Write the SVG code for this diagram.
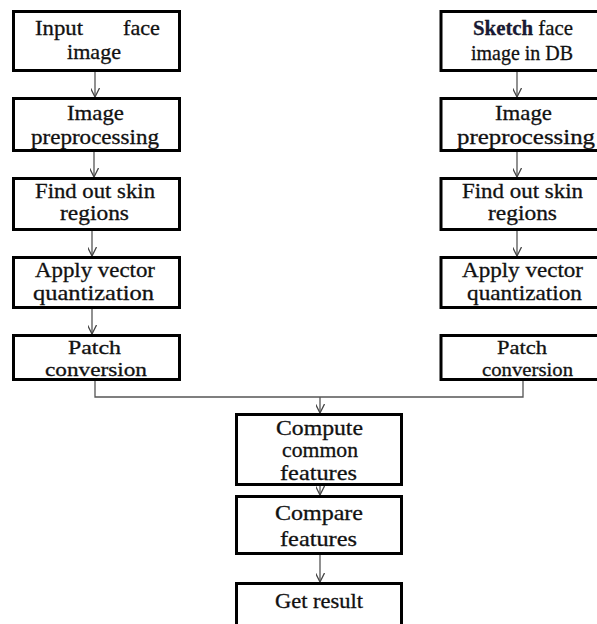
<svg xmlns="http://www.w3.org/2000/svg" width="597" height="624" viewBox="0 0 597 624">
<defs>
<marker id="ah" viewBox="0 0 10 10" refX="10" refY="5" markerWidth="9" markerHeight="9" markerUnits="userSpaceOnUse" orient="auto">
<path d="M0,0 L10,5 L0,10" fill="none" stroke="#444" stroke-width="1.4"/>
</marker>
<style>
.box{fill:#fff;stroke:#000;stroke-width:3}
.t{font-family:"Liberation Serif","Times New Roman",serif;font-size:21px;fill:#111;stroke:#111;stroke-width:0.3;text-anchor:middle}
.s{font-size:19.5px}
.c{fill:none;stroke:#555;stroke-width:1.3}
.a{marker-end:url(#ah)}
</style>
</defs>
<rect width="597" height="624" fill="#fff"/>
<g id="connectors">
<line class="c a" x1="95" y1="72" x2="95" y2="97"/>
<line class="c a" x1="94" y1="152" x2="94" y2="177"/>
<line class="c a" x1="92" y1="231" x2="92" y2="256"/>
<line class="c a" x1="92" y1="309" x2="92" y2="334"/>
<line class="c a" x1="517" y1="63" x2="517" y2="97"/>
<line class="c a" x1="517" y1="152" x2="517" y2="177"/>
<line class="c a" x1="517" y1="231" x2="517" y2="256"/>
<polyline class="c" points="95,381 95,397 523,397 523,381"/>
<line class="c a" x1="320" y1="397" x2="320" y2="413"/>
<line class="c a" x1="320" y1="486" x2="320" y2="495"/>
<line class="c a" x1="320" y1="555" x2="320" y2="582"/>
</g>
<g id="l1"><rect class="box" x="13.5" y="11.5" width="166" height="59"/>
<text class="t" x="59" y="35" textLength="48" lengthAdjust="spacingAndGlyphs">Input</text>
<text class="t" x="141.5" y="35" textLength="37" lengthAdjust="spacingAndGlyphs">face</text>
<text class="t" x="94" y="59" textLength="54" lengthAdjust="spacingAndGlyphs">image</text></g>
<g id="l2"><rect class="box" x="13.5" y="98.5" width="166" height="52"/>
<text class="t" x="95.5" y="120" textLength="57" lengthAdjust="spacingAndGlyphs">Image</text>
<text class="t" x="95" y="144" textLength="128" lengthAdjust="spacingAndGlyphs">preprocessing</text></g>
<g id="l3"><rect class="box" x="13.5" y="178.5" width="166" height="51"/>
<text class="t" x="95" y="198" textLength="120" lengthAdjust="spacingAndGlyphs">Find out skin</text>
<text class="t" x="94.5" y="220" textLength="69" lengthAdjust="spacingAndGlyphs">regions</text></g>
<g id="l4"><rect class="box" x="13.5" y="257.5" width="166" height="50"/>
<text class="t" x="95" y="277" textLength="120" lengthAdjust="spacingAndGlyphs">Apply vector</text>
<text class="t" x="93.5" y="300" textLength="121" lengthAdjust="spacingAndGlyphs">quantization</text></g>
<g id="l5"><rect class="box" x="13.5" y="335.5" width="166" height="44"/>
<text class="t s" x="94.5" y="354" textLength="53" lengthAdjust="spacingAndGlyphs">Patch</text>
<text class="t s" x="96" y="376" textLength="102" lengthAdjust="spacingAndGlyphs">conversion</text></g>
<g id="r1"><rect class="box" x="441" y="11.5" width="162" height="59"/>
<text class="t" x="523" y="35" textLength="100" lengthAdjust="spacingAndGlyphs"><tspan font-weight="bold" fill="#1a1a3a">Sketch</tspan>  face</text>
<text class="t" x="522" y="60" textLength="102" lengthAdjust="spacingAndGlyphs">image in DB</text></g>
<g id="r2"><rect class="box" x="441" y="98.5" width="162" height="52"/>
<text class="t" x="523.5" y="120" textLength="57" lengthAdjust="spacingAndGlyphs">Image</text>
<text class="t" x="526" y="144" textLength="138" lengthAdjust="spacingAndGlyphs">preprocessing</text></g>
<g id="r3"><rect class="box" x="441" y="178.5" width="162" height="51"/>
<text class="t" x="522.5" y="198" textLength="121" lengthAdjust="spacingAndGlyphs">Find out skin</text>
<text class="t" x="522.5" y="220" textLength="69" lengthAdjust="spacingAndGlyphs">regions</text></g>
<g id="r4"><rect class="box" x="441" y="257.5" width="162" height="50"/>
<text class="t" x="522.5" y="277" textLength="121" lengthAdjust="spacingAndGlyphs">Apply vector</text>
<text class="t" x="524.5" y="300" textLength="115" lengthAdjust="spacingAndGlyphs">quantization</text></g>
<g id="r5"><rect class="box" x="441" y="335.5" width="162" height="44"/>
<text class="t s" x="522" y="354" textLength="50" lengthAdjust="spacingAndGlyphs">Patch</text>
<text class="t s" x="527.5" y="376" textLength="91" lengthAdjust="spacingAndGlyphs">conversion</text></g>
<g id="c1"><rect class="box" x="236.5" y="414.5" width="165" height="70"/>
<text class="t" x="319.5" y="435" textLength="87" lengthAdjust="spacingAndGlyphs">Compute</text>
<text class="t" x="320" y="457" textLength="76" lengthAdjust="spacingAndGlyphs">common</text>
<text class="t" x="318.5" y="480" textLength="77" lengthAdjust="spacingAndGlyphs">features</text></g>
<g id="c2"><rect class="box" x="236.5" y="496.5" width="165" height="57"/>
<text class="t" x="319" y="520" textLength="88" lengthAdjust="spacingAndGlyphs">Compare</text>
<text class="t" x="318.5" y="546" textLength="77" lengthAdjust="spacingAndGlyphs">features</text></g>
<g id="c3"><rect class="box" x="236.5" y="583.5" width="165" height="50"/>
<text class="t" x="319" y="608" textLength="88" lengthAdjust="spacingAndGlyphs">Get result</text></g>
</svg>
